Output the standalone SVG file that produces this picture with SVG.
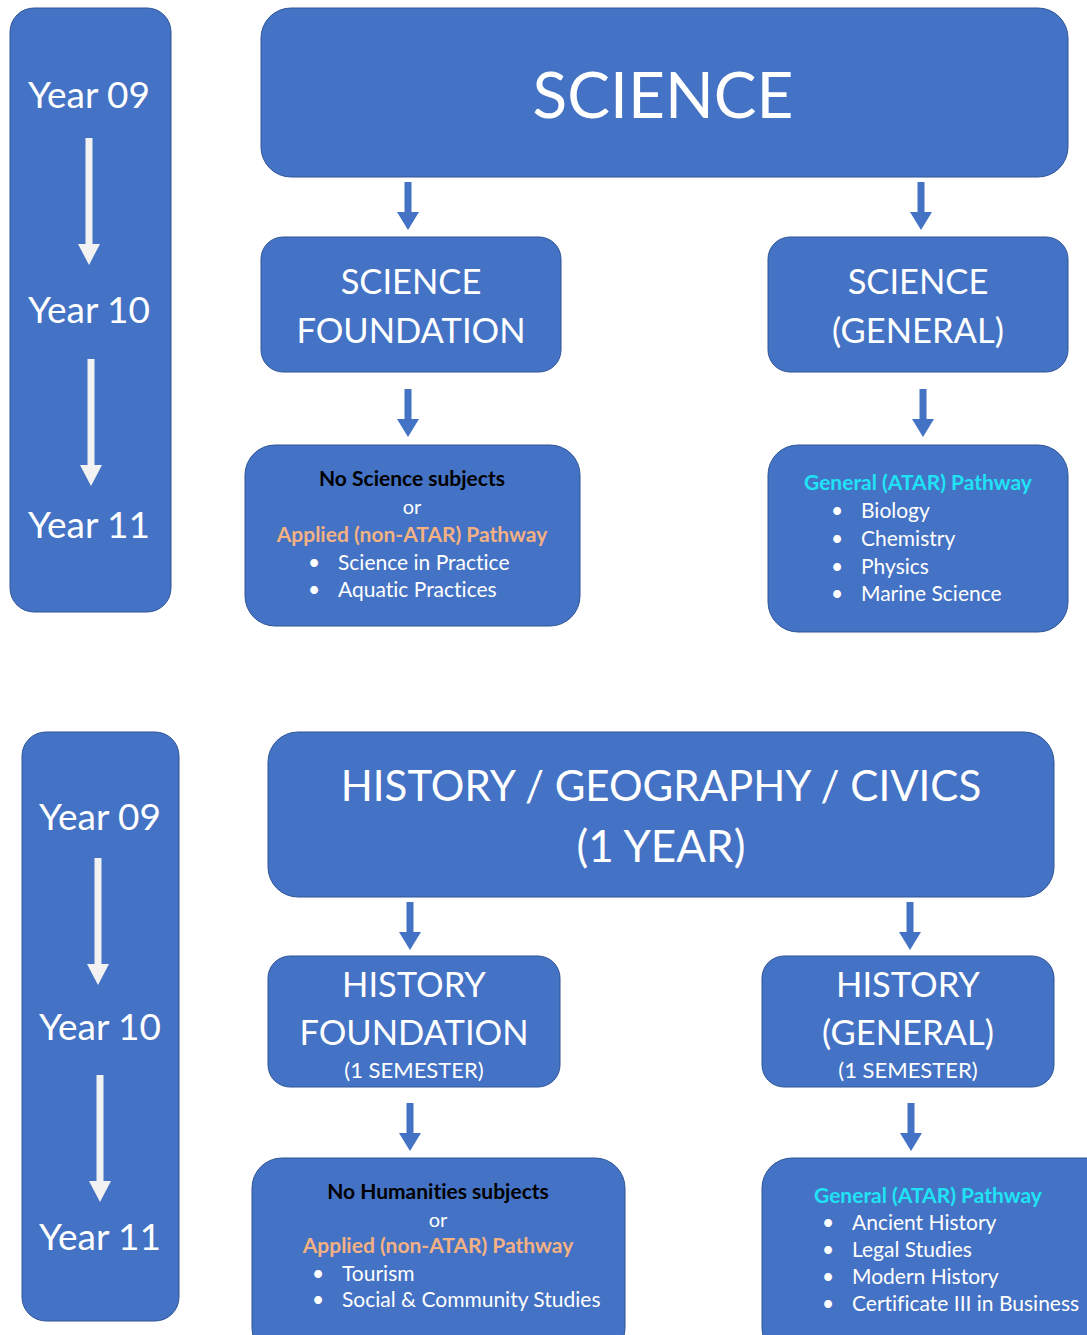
<svg xmlns="http://www.w3.org/2000/svg" width="1087" height="1335" viewBox="0 0 1087 1335">
<style>
.box{fill:#4472C4;stroke:#2F5597;stroke-width:1}
text{font-family:Lato,"Open Sans","Liberation Sans",sans-serif;fill:#fff;font-variant-ligatures:none}
.yr{font-size:37px;text-anchor:middle}
.big{text-anchor:middle}
.mid{text-anchor:middle}
.b{font-weight:bold;font-size:21px}
.or{font-size:20px}
.blk{fill:#000}
.org{fill:#F4B183}
.cyn{fill:#1FE3F5}
.li{font-size:21px}
.wa{fill:#F2F2F2}
.ba{fill:#4472C4}
</style>
<defs>
<path id="wArr" d="M-3.5,0 H3.5 V106 H11 L0,127 L-11,106 H-3.5 Z"/>
<path id="bArr" d="M-3.5,0 H3.5 V30 H11 L0,48 L-11,30 H-3.5 Z"/>
</defs>

<!-- SCIENCE section -->
<g id="years-science">
<rect class="box" x="10" y="8" width="161" height="604" rx="24"/>
<text class="yr" x="89" y="108">Year 09</text>
<text class="yr" x="89" y="323">Year 10</text>
<text class="yr" x="89" y="538">Year 11</text>
<use href="#wArr" class="wa" x="89" y="138"/>
<use href="#wArr" class="wa" x="91" y="359"/>
</g>
<g id="science">
<rect class="box" x="261" y="8" width="807" height="169" rx="30"/>
<text class="big" x="663" y="118" font-size="64">SCIENCE</text>
</g>
<g id="science-foundation">
<rect class="box" x="261" y="237" width="300" height="135" rx="22"/>
<text class="big" x="411" y="294" font-size="34.5">SCIENCE</text>
<text class="big" x="411" y="343" font-size="34.5">FOUNDATION</text>
</g>
<g id="science-general">
<rect class="box" x="768" y="237" width="300" height="135" rx="22"/>
<text class="big" x="918" y="294" font-size="34.5">SCIENCE</text>
<text class="big" x="918" y="343" font-size="34.5">(GENERAL)</text>
</g>
<g id="science-applied">
<rect class="box" x="245" y="445" width="335" height="181" rx="30"/>
<text class="mid b blk" x="412" y="486">No Science subjects</text>
<text class="mid or" x="412" y="514">or</text>
<text class="mid b org" x="412" y="542">Applied (non-ATAR) Pathway</text>
<text class="li" x="308" y="570">•</text><text class="li" x="338" y="570">Science in Practice</text>
<text class="li" x="308" y="597">•</text><text class="li" x="338" y="597">Aquatic Practices</text>
</g>
<g id="science-atar">
<rect class="box" x="768" y="445" width="300" height="187" rx="30"/>
<text class="mid b cyn" x="918" y="490">General (ATAR) Pathway</text>
<text class="li" x="831" y="518">•</text><text class="li" x="861" y="518">Biology</text>
<text class="li" x="831" y="546">•</text><text class="li" x="861" y="546">Chemistry</text>
<text class="li" x="831" y="574">•</text><text class="li" x="861" y="574">Physics</text>
<text class="li" x="831" y="601">•</text><text class="li" x="861" y="601">Marine Science</text>
</g>

<!-- HISTORY section -->
<g id="years-history">
<rect class="box" x="22" y="732" width="157" height="589" rx="24"/>
<text class="yr" x="100" y="830">Year 09</text>
<text class="yr" x="100" y="1040">Year 10</text>
<text class="yr" x="100" y="1250">Year 11</text>
<use href="#wArr" class="wa" x="98" y="858"/>
<use href="#wArr" class="wa" x="100" y="1075"/>
</g>
<g id="hgc">
<rect class="box" x="268" y="732" width="786" height="165" rx="30"/>
<text class="big" x="661" y="801" font-size="42">HISTORY / GEOGRAPHY / CIVICS</text>
<text class="big" x="661" y="862" font-size="44">(1 YEAR)</text>
</g>
<g id="history-foundation">
<rect class="box" x="268" y="956" width="292" height="131" rx="22"/>
<text class="big" x="414" y="997" font-size="34.5">HISTORY</text>
<text class="big" x="414" y="1045" font-size="34.5">FOUNDATION</text>
<text class="big" x="414" y="1078" font-size="22">(1 SEMESTER)</text>
</g>
<g id="history-general">
<rect class="box" x="762" y="956" width="292" height="131" rx="22"/>
<text class="big" x="908" y="997" font-size="34.5">HISTORY</text>
<text class="big" x="908" y="1045" font-size="34.5">(GENERAL)</text>
<text class="big" x="908" y="1078" font-size="22">(1 SEMESTER)</text>
</g>
<g id="history-applied">
<rect class="box" x="252" y="1158" width="373" height="200" rx="30"/>
<text class="mid b blk" x="438" y="1199">No Humanities subjects</text>
<text class="mid or" x="438" y="1227">or</text>
<text class="mid b org" x="438" y="1253">Applied (non-ATAR) Pathway</text>
<text class="li" x="312" y="1281">•</text><text class="li" x="342" y="1281">Tourism</text>
<text class="li" x="312" y="1307">•</text><text class="li" x="342" y="1307">Social &amp; Community Studies</text>
</g>
<g id="history-atar">
<rect class="box" x="762" y="1158" width="360" height="200" rx="30"/>
<text class="mid b cyn" x="928" y="1203">General (ATAR) Pathway</text>
<text class="li" x="822" y="1230">•</text><text class="li" x="852" y="1230">Ancient History</text>
<text class="li" x="822" y="1257">•</text><text class="li" x="852" y="1257">Legal Studies</text>
<text class="li" x="822" y="1284">•</text><text class="li" x="852" y="1284">Modern History</text>
<text class="li" x="822" y="1311">•</text><text class="li" x="852" y="1311">Certificate III in Business</text>
</g>

<g id="connectors" class="ba">
<use href="#bArr" x="408" y="182"/>
<use href="#bArr" x="921" y="182"/>
<use href="#bArr" x="408" y="389"/>
<use href="#bArr" x="923" y="389"/>
<use href="#bArr" x="410" y="902"/>
<use href="#bArr" x="910" y="902"/>
<use href="#bArr" x="410" y="1103"/>
<use href="#bArr" x="911" y="1103"/>
</g>
</svg>
